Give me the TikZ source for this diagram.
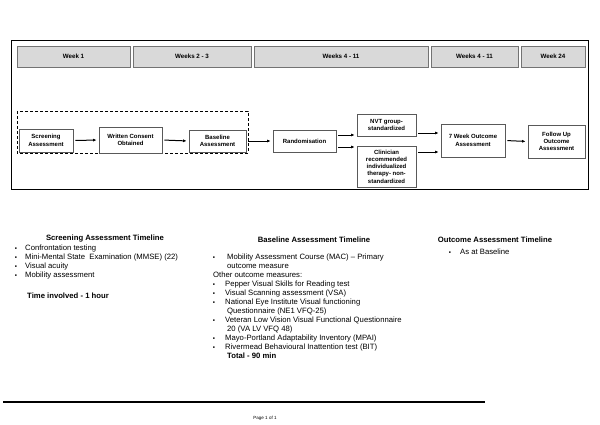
\documentclass[tikz,border=0pt]{standalone}
\usepackage{fontspec}
\setmainfont{Liberation Sans}
\usetikzlibrary{arrows.meta,calc}
\begin{document}
\begin{tikzpicture}[x=1pt,y=-1pt,
  hdr/.style={draw=black!55,line width=0.8pt,fill=black!15,minimum height=21pt,inner sep=0pt,font=\fontsize{6.2}{7}\selectfont\bfseries},
  box/.style={draw=black!65,line width=0.8pt,fill=white,align=center,inner sep=1pt,font=\fontsize{6}{7.3}\selectfont\bfseries},
  arr/.style={-{Latex[length=3.5pt,width=3pt]},line width=1pt,shorten <=2pt,shorten >=2pt},
  body/.style={anchor=base west,inner sep=0pt,font=\fontsize{7.7}{9}\selectfont},
  ttl/.style={anchor=base,inner sep=0pt,font=\fontsize{7.7}{9}\selectfont\bfseries},
  bul/.style={anchor=base,inner sep=0pt,font=\fontsize{6}{7}\selectfont}]
\useasboundingbox (0,0) rectangle (600,424);
% frame
\draw[line width=1pt] (11,40) rectangle (588,189);
% headers
\node[hdr,minimum width=113pt] (h1) at (73.5,56.5) {Week 1};
\node[hdr,minimum width=118pt] (h2) at (192,56.5) {Weeks 2 - 3};
\node[hdr,minimum width=174pt] (h3) at (341,56.5) {Weeks 4 - 11};
\node[hdr,minimum width=87pt] (h4) at (474.5,56.5) {Weeks 4 - 11};
\node[hdr,minimum width=64pt] (h5) at (553,56.5) {Week 24};
% dashed group
\draw[line width=0.9pt,dash pattern=on 3pt off 2pt] (17,111) rectangle (248,153);
% boxes
\node[box,minimum width=54pt,minimum height=23pt] (scr) at (46,140.5) {Screening\\Assessment};
\node[box,minimum width=63pt,minimum height=26pt] (wc) at (130.5,140) {Written Consent\\Obtained};
\node[box,minimum width=57pt,minimum height=22pt] (bas) at (217.5,141) {Baseline\\Assessment};
\node[box,minimum width=63pt,minimum height=22pt] (rand) at (304.5,141) {Randomisation};
\node[box,minimum width=59pt,minimum height=22pt] (nvt) at (386.5,125) {NVT group-\\standardized};
\node[box,minimum width=59pt,minimum height=41pt,inner sep=0pt] (cli) at (386.5,166.5) {Clinician\\recommended\\individualized\\therapy- non-\\standardized};
\node[box,minimum width=64pt,minimum height=33pt] (sev) at (473,140.5) {7 Week Outcome\\Assessment};
\node[box,minimum width=57pt,minimum height=33pt] (fol) at (556.5,141.5) {Follow Up\\Outcome\\Assessment};
% arrows
\draw[arr] (scr.east) -- (wc.west);
\draw[arr] (wc.east) -- (bas.west);
\draw[arr] (bas.east) -- (rand.west);
\draw[arr] ([yshift=6pt]rand.east) -- ([yshift=6pt]rand.east -| nvt.west);
\draw[arr] ([yshift=-6pt]rand.east) -- ([yshift=-6pt]rand.east -| cli.west);
\draw[arr] (nvt.east |- 0,133) -- (sev.west |- 0,133);
\draw[arr] (cli.east |- 0,152) -- (sev.west |- 0,152);
\draw[arr] (sev.east) -- (fol.west);
% screening timeline
\node[ttl] (t1) at (105,240) {Screening Assessment Timeline};
\foreach \y/\t [count=\i] in {250/Confrontation testing,259/Mini-Mental State\ \ Examination (MMSE) (22),268/Visual acuity,277/Mobility assessment}{
  \node[bul] (sb\i) at (16,\y) {▪};
  \node[body] (st\i) at (25,\y) {\t};
}
\node[body,font=\fontsize{7.7}{9}\selectfont\bfseries] (time) at (27,298) {Time involved - 1 hour};
% baseline timeline
\node[ttl] (t2) at (314,242) {Baseline Assessment Timeline};
\node[bul] (bb0) at (214,259) {▪};
\node[body] (bt0) at (227,259) {Mobility Assessment Course (MAC) -- Primary};
\node[body] (bt0b) at (227,268) {outcome measure};
\node[body] (oth) at (213,277) {Other outcome measures:};
\foreach \y/\t [count=\i] in {286/Pepper Visual Skills for Reading test,295/Visual Scanning assessment (VSA),304/National Eye Institute Visual functioning,322/Veteran Low Vision Visual Functional Questionnaire,340/Mayo-Portland Adaptability Inventory (MPAI),349/Rivermead Behavioural Inattention test (BIT)}{
  \node[bul] (bb\i) at (214,\y) {▪};
  \node[body] (bt\i) at (225,\y) {\t};
}
\node[body] (bq) at (227,313) {Questionnaire (NE1 VFQ-25)};
\node[body] (bv) at (227,331) {20 (VA LV VFQ 48)};
\node[body,font=\fontsize{7.7}{9}\selectfont\bfseries] (tot) at (227,358) {Total - 90 min};
% outcome timeline
\node[ttl] (t3) at (495,242) {Outcome Assessment Timeline};
\node[bul] (ob) at (450,254) {▪};
\node[body] (ot) at (460,254) {As at Baseline};
% footer
\draw[line width=1.2pt] (3,402) -- (485,402);
\node[inner sep=0pt,font=\fontsize{4.5}{5}\selectfont] (pg) at (265,418) {Page 1 of 1};
\end{tikzpicture}
\end{document}
